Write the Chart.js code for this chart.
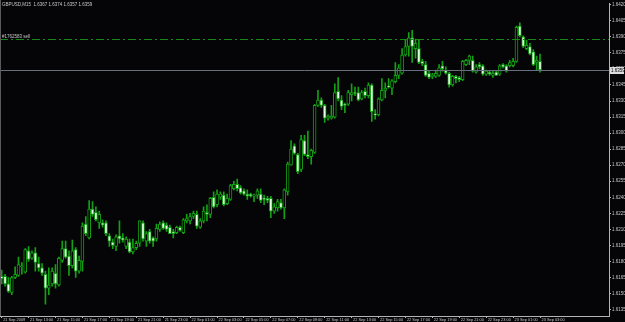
<!DOCTYPE html>
<html>
<head>
<meta charset="utf-8">
<script src="https://cdn.jsdelivr.net/npm/chart.js@4/dist/chart.umd.min.js"></script>
<style>
  html, body { margin: 0; padding: 0; background: #050507; }
  #wrap { width: 625px; height: 322px; }
</style>
</head>
<body>
<div id="wrap"><canvas id="chart" width="625" height="322"></canvas></div>
<script>
// GBPUSD M15, 21 Sep 2009 11:00 -> 23 Sep 2009 03:00
const symbol = 'GBPUSD,M15';

const opens = [
  1.6166,1.6166,1.6159,1.6151,1.6165,1.6167,1.6175,1.6170,1.6190,1.6183,
  1.6188,1.6178,1.6174,1.6168,1.6155,1.6159,1.6169,1.6158,1.6181,1.6192,
  1.6185,1.6176,1.6191,1.6171,1.6180,1.6215,1.6202,1.6229,1.6226,1.6216,
  1.6216,1.6216,1.6204,1.6198,1.6194,1.6204,1.6202,1.6194,1.6198,1.6189,
  1.6193,1.6197,1.6216,1.6199,1.6208,1.6202,1.6201,1.6210,1.6216,1.6214,
  1.6212,1.6208,1.6207,1.6212,1.6207,1.6218,1.6218,1.6222,1.6224,1.6212,
  1.6218,1.6226,1.6224,1.6240,1.6233,1.6240,1.6242,1.6234,1.6238,1.6248,
  1.6252,1.6249,1.6246,1.6243,1.6243,1.6241,1.6242,1.6243,1.6239,1.6239,
  1.6239,1.6227,1.6230,1.6235,1.6230,1.6245,1.6270,1.6288,1.6280,1.6266,
  1.6293,1.6280,1.6278,1.6282,1.6326,1.6331,1.6326,1.6314,1.6314,1.6315,
  1.6339,1.6331,1.6327,1.6327,1.6336,1.6338,1.6338,1.6332,1.6339,1.6335,
  1.6345,1.6318,1.6317,1.6331,1.6340,1.6344,1.6342,1.6348,1.6354,1.6356,
  1.6373,1.6381,1.6389,1.6379,1.6379,1.6367,1.6364,1.6356,1.6353,1.6353,
  1.6354,1.6363,1.6359,1.6356,1.6345,1.6353,1.6352,1.6350,1.6364,1.6368,
  1.6368,1.6357,1.6364,1.6363,1.6355,1.6357,1.6354,1.6357,1.6355,1.6364,
  1.6363,1.6363,1.6363,1.6367,1.6400,1.6390,1.6379,1.6381,1.6376,1.6366,
  1.6367
];
const highs = [
  1.6172,1.6168,1.6165,1.6166,1.6175,1.6184,1.6179,1.6192,1.6194,1.6190,
  1.6193,1.6184,1.6178,1.6171,1.6174,1.6174,1.6177,1.6184,1.6199,1.6199,
  1.6190,1.6200,1.6193,1.6185,1.6216,1.6222,1.6237,1.6236,1.6231,1.6227,
  1.6219,1.6218,1.6206,1.6201,1.6205,1.6218,1.6206,1.6203,1.6201,1.6201,
  1.6199,1.6218,1.6218,1.6208,1.6210,1.6203,1.6215,1.6217,1.6218,1.6216,
  1.6214,1.6210,1.6213,1.6213,1.6220,1.6224,1.6225,1.6227,1.6227,1.6220,
  1.6231,1.6233,1.6240,1.6245,1.6247,1.6245,1.6245,1.6243,1.6252,1.6255,
  1.6257,1.6251,1.6248,1.6247,1.6244,1.6243,1.6248,1.6248,1.6242,1.6241,
  1.6241,1.6234,1.6238,1.6238,1.6248,1.6273,1.6293,1.6290,1.6281,1.6298,
  1.6298,1.6302,1.6285,1.6327,1.6340,1.6333,1.6327,1.6317,1.6326,1.6346,
  1.6352,1.6335,1.6328,1.6340,1.6346,1.6343,1.6343,1.6340,1.6342,1.6347,
  1.6346,1.6322,1.6333,1.6351,1.6347,1.6351,1.6350,1.6366,1.6364,1.6379,
  1.6387,1.6394,1.6396,1.6388,1.6387,1.6369,1.6367,1.6358,1.6356,1.6359,
  1.6364,1.6367,1.6362,1.6357,1.6354,1.6354,1.6353,1.6368,1.6369,1.6373,
  1.6372,1.6364,1.6366,1.6364,1.6359,1.6358,1.6358,1.6358,1.6364,1.6365,
  1.6364,1.6368,1.6370,1.6400,1.6403,1.6391,1.6387,1.6384,1.6378,1.6372,
  1.6374
];
const lows = [
  1.6159,1.6157,1.6151,1.6149,1.6164,1.6166,1.6168,1.6169,1.6180,1.6182,
  1.6171,1.6171,1.6167,1.6140,1.6149,1.6157,1.6155,1.6157,1.6179,1.6183,
  1.6167,1.6174,1.6165,1.6169,1.6171,1.6204,1.6201,1.6222,1.6218,1.6211,
  1.6212,1.6204,1.6194,1.6192,1.6190,1.6197,1.6198,1.6192,1.6188,1.6187,
  1.6191,1.6194,1.6199,1.6194,1.6197,1.6194,1.6199,1.6208,1.6210,1.6208,
  1.6206,1.6202,1.6206,1.6208,1.6206,1.6216,1.6215,1.6220,1.6211,1.6211,
  1.6216,1.6218,1.6221,1.6230,1.6231,1.6238,1.6232,1.6233,1.6237,1.6247,
  1.6246,1.6243,1.6242,1.6238,1.6240,1.6236,1.6239,1.6235,1.6233,1.6235,
  1.6221,1.6225,1.6227,1.6229,1.6220,1.6242,1.6270,1.6280,1.6262,1.6264,
  1.6279,1.6276,1.6271,1.6281,1.6325,1.6324,1.6310,1.6312,1.6313,1.6314,
  1.6330,1.6322,1.6319,1.6326,1.6330,1.6335,1.6330,1.6331,1.6333,1.6333,
  1.6311,1.6313,1.6316,1.6330,1.6333,1.6342,1.6336,1.6347,1.6351,1.6355,
  1.6372,1.6372,1.6366,1.6370,1.6365,1.6363,1.6353,1.6351,1.6351,1.6352,
  1.6353,1.6358,1.6355,1.6343,1.6344,1.6347,1.6348,1.6349,1.6363,1.6364,
  1.6357,1.6356,1.6360,1.6354,1.6354,1.6354,1.6352,1.6354,1.6354,1.6361,
  1.6357,1.6362,1.6362,1.6366,1.6390,1.6380,1.6378,1.6373,1.6363,1.6359,
  1.6357
];
const closes = [
  1.6164,1.6159,1.6152,1.6165,1.6168,1.6177,1.6176,1.6191,1.6182,1.6188,
  1.6179,1.6174,1.6169,1.6155,1.6158,1.6171,1.6159,1.6183,1.6192,1.6184,
  1.6176,1.6190,1.6171,1.6181,1.6213,1.6206,1.6229,1.6224,1.6219,1.6224,
  1.6214,1.6206,1.6199,1.6195,1.6203,1.6201,1.6200,1.6201,1.6189,1.6193,
  1.6197,1.6218,1.6201,1.6206,1.6199,1.6199,1.6211,1.6215,1.6211,1.6210,
  1.6206,1.6206,1.6212,1.6209,1.6219,1.6220,1.6222,1.6225,1.6213,1.6218,
  1.6227,1.6224,1.6239,1.6231,1.6243,1.6243,1.6233,1.6239,1.6251,1.6252,
  1.6248,1.6244,1.6243,1.6241,1.6241,1.6242,1.6246,1.6237,1.6238,1.6237,
  1.6227,1.6231,1.6236,1.6230,1.6247,1.6271,1.6285,1.6281,1.6264,1.6294,
  1.6280,1.6278,1.6284,1.6326,1.6331,1.6326,1.6314,1.6316,1.6316,1.6338,
  1.6332,1.6325,1.6326,1.6338,1.6338,1.6337,1.6331,1.6338,1.6335,1.6345,
  1.6320,1.6317,1.6332,1.6340,1.6342,1.6343,1.6349,1.6354,1.6361,1.6373,
  1.6381,1.6389,1.6381,1.6384,1.6366,1.6365,1.6354,1.6352,1.6354,1.6356,
  1.6361,1.6360,1.6356,1.6345,1.6353,1.6351,1.6350,1.6367,1.6368,1.6372,
  1.6358,1.6362,1.6362,1.6355,1.6358,1.6355,1.6356,1.6354,1.6363,1.6362,
  1.6358,1.6366,1.6367,1.6399,1.6391,1.6381,1.6382,1.6374,1.6364,1.6368,
  1.6359
];

// one label every 8 bars (2 hours)
const xTickLabels = [
  '21 Sep 2009', '21 Sep 13:00', '21 Sep 15:00', '21 Sep 17:00', '21 Sep 19:00',
  '21 Sep 21:00', '21 Sep 23:00', '22 Sep 01:00', '22 Sep 03:00', '22 Sep 05:00',
  '22 Sep 07:00', '22 Sep 09:00', '22 Sep 11:00', '22 Sep 13:00', '22 Sep 15:00',
  '22 Sep 17:00', '22 Sep 19:00', '22 Sep 21:00', '22 Sep 23:00', '23 Sep 01:00',
  '23 Sep 03:00'
];
const yTicks = [
  1.6135, 1.6150, 1.6165, 1.6180, 1.6195, 1.6210, 1.6225, 1.6240, 1.6255, 1.6270,
  1.6285, 1.6300, 1.6315, 1.6330, 1.6345, 1.6360, 1.6375, 1.6390, 1.6405, 1.6420
];
const orderPrice = 1.6388;
const orderLabel = '#1762583 sell';

const GREEN = '#14a014';
const AXIS = '#b4b4b4';
const TXT = '#c8c8c8';
const FONT = 'Liberation Sans';
const SLOTS = 181; // bars + empty shift on the right

// bar times as categories
const categories = [];
const t0 = Date.UTC(2009, 8, 21, 11, 0);
const mon = ['Jan','Feb','Mar','Apr','May','Jun','Jul','Aug','Sep','Oct','Nov','Dec'];
for (let i = 0; i < SLOTS; i++) {
  const d = new Date(t0 + i * 15 * 60000);
  const hh = String(d.getUTCHours()).padStart(2, '0');
  const mm = String(d.getUTCMinutes()).padStart(2, '0');
  categories.push(d.getUTCDate() + ' ' + mon[d.getUTCMonth()] + ' ' + hh + ':' + mm);
}

const wicks = opens.map((o, i) => [lows[i], highs[i]]);
const bodies = opens.map((o, i) => [o, closes[i]]);

const overlay = {
  id: 'overlay',
  beforeDraw(chart) {
    const c = chart.ctx;
    c.save();
    c.fillStyle = '#050507';
    c.fillRect(0, 0, chart.width, chart.height);
    c.restore();
  },
  afterDatasetsDraw(chart) {
    const { ctx, chartArea: a, scales: { y } } = chart;
    ctx.save();
    // order level (dash-dot)
    const yo = Math.round(y.getPixelForValue(orderPrice)) + 0.5;
    ctx.strokeStyle = '#138a13';
    ctx.lineWidth = 1;
    ctx.setLineDash([8, 3, 2, 3]);
    ctx.beginPath(); ctx.moveTo(a.left, yo); ctx.lineTo(a.right, yo); ctx.stroke();
    ctx.setLineDash([]);
    // bid line
    const last = closes[closes.length - 1];
    const yb = Math.round(y.getPixelForValue(last)) + 0.5;
    ctx.strokeStyle = '#66707c';
    ctx.beginPath(); ctx.moveTo(a.left, yb); ctx.lineTo(a.right, yb); ctx.stroke();
    // left frame
    ctx.strokeStyle = '#5a5a5a';
    ctx.beginPath(); ctx.moveTo(0.5, 0); ctx.lineTo(0.5, a.bottom); ctx.stroke();
    // texts
    ctx.font = '4.5px "' + FONT + '"';
    ctx.fillStyle = TXT;
    ctx.textBaseline = 'middle';
    ctx.textAlign = 'left';
    const n = opens.length - 1;
    const head = symbol + '  ' + [opens[n], highs[n], lows[n], closes[n]].map(v => v.toFixed(4)).join(' ');
    ctx.fillText(head, 2, 4.5);
    ctx.fillText(orderLabel, 2, yo - 3);
    // bid price box on the axis
    ctx.fillStyle = '#dcdcdc';
    ctx.fillRect(a.right + 1, yb - 3.5, 14, 7);
    ctx.fillStyle = '#000';
    ctx.fillText(last.toFixed(4), a.right + 2, yb);
    ctx.restore();
  }
};

new Chart(document.getElementById('chart'), {
  type: 'bar',
  data: {
    labels: categories,
    datasets: [
      {
        label: 'body',
        data: bodies,
        grouped: false,
        order: 1,
        barThickness: 3,
        minBarLength: 1,
        backgroundColor: ctx => closes[ctx.dataIndex] >= opens[ctx.dataIndex] ? '#000000' : '#e8ffe8',
        borderColor: GREEN,
        borderWidth: 1,
        borderSkipped: false
      },
      {
        label: 'wick',
        data: wicks,
        grouped: false,
        order: 2,
        barThickness: 1,
        backgroundColor: GREEN,
        borderWidth: 0
      }
    ]
  },
  options: {
    responsive: false,
    animation: false,
    devicePixelRatio: 1,
    layout: { padding: 0 },
    plugins: { legend: { display: false }, tooltip: { enabled: false }, title: { display: false } },
    scales: {
      x: {
        type: 'category',
        offset: true,
        grid: { offset: false, drawOnChartArea: false, drawTicks: true, tickLength: 2, color: AXIS },
        border: { display: true, color: AXIS },
        ticks: {
          autoSkip: false, maxRotation: 0, minRotation: 0,
          align: 'start', labelOffset: 1.5, padding: 0,
          color: TXT, font: { family: FONT, size: 3.9 },
          callback: (v, i) => (i % 8 === 0 && i / 8 < xTickLabels.length) ? xTickLabels[i / 8] : null
        },
        afterFit: s => { s.height = 6; }
      },
      y: {
        position: 'right',
        min: 1.6129,
        max: 1.6421,
        afterBuildTicks: s => { s.ticks = yTicks.map(v => ({ value: v })); },
        grid: { drawOnChartArea: false, drawTicks: true, tickLength: 2, color: AXIS },
        border: { display: true, color: AXIS },
        ticks: {
          padding: 1, color: TXT, font: { family: FONT, size: 4.5 },
          callback: v => v.toFixed(4)
        },
        afterFit: s => { s.width = 16; }
      }
    }
  },
  plugins: [overlay]
});
</script>
</body>
</html>
